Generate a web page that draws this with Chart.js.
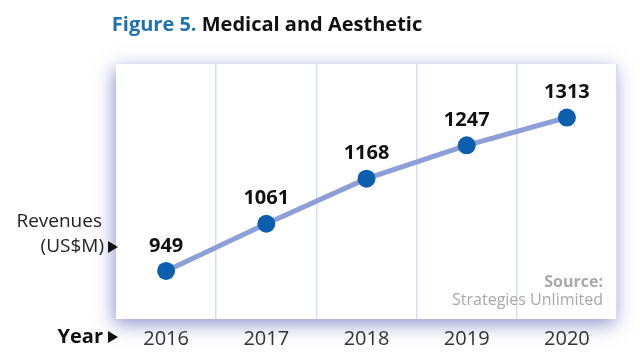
<!DOCTYPE html>
<html>
<head>
<meta charset="utf-8">
<script src="https://cdn.jsdelivr.net/npm/chart.js@4/dist/chart.umd.min.js"></script>
<style>
html,body{margin:0;padding:0;background:#fff;}
#wrap{width:640px;height:362px;position:relative;}
</style>
</head>
<body>
<div id="wrap"><canvas id="c" width="640" height="362"></canvas></div>
<script>
const years = ['2016', '2017', '2018', '2019', '2020'];
const revenues = [949, 1061, 1168, 1247, 1313];
const titleParts = ['Figure 5.', ' Medical and Aesthetic'];
const yLabel = ['Revenues', '(US$M)'];
const xLabel = 'Year';
const sourceLines = ['Source:', 'Strategies Unlimited'];

const FONT = '"Open Sans", "DejaVu Sans", sans-serif';

const boxPlugin = {
  id: 'box',
  beforeDraw(chart) {
    const {ctx, chartArea: a} = chart;
    ctx.save();
    ctx.shadowColor = 'rgba(110,110,190,0.75)';
    ctx.shadowBlur = 18;
    ctx.shadowOffsetX = -2;
    ctx.shadowOffsetY = 5;
    ctx.fillStyle = '#fff';
    ctx.fillRect(a.left, a.top, a.right - a.left, a.bottom - a.top);
    ctx.restore();
  },
  afterDatasetsDraw(chart) {
    const {ctx} = chart;
    const meta = chart.getDatasetMeta(0);
    ctx.save();
    ctx.font = 'bold 20px ' + FONT;
    ctx.fillStyle = '#111';
    ctx.textAlign = 'center';
    ctx.textBaseline = 'middle';
    meta.data.forEach((pt, i) => {
      ctx.fillText(String(revenues[i]), pt.x, pt.y - 25);
    });
    ctx.restore();
  },
  afterDraw(chart) {
    const {ctx, chartArea: a} = chart;
    ctx.save();
    // title
    ctx.font = 'bold 20px ' + FONT;
    ctx.textBaseline = 'alphabetic';
    const w1 = ctx.measureText(titleParts[0]).width;
    const w2 = ctx.measureText(titleParts[1]).width;
    let x = 267 - (w1 + w2) / 2;
    ctx.textAlign = 'left';
    ctx.fillStyle = '#1f72ad';
    ctx.fillText(titleParts[0], x, 31);
    ctx.fillStyle = '#111';
    ctx.fillText(titleParts[1], x + w1, 31);

    function tri(xr, yc) {
      ctx.beginPath();
      ctx.moveTo(xr - 10, yc - 6);
      ctx.lineTo(xr, yc);
      ctx.lineTo(xr - 10, yc + 6);
      ctx.closePath();
      ctx.fill();
    }
    // y label
    ctx.fillStyle = '#222';
    ctx.font = '19px ' + FONT;
    ctx.textBaseline = 'middle';
    ctx.textAlign = 'right';
    ctx.fillText(yLabel[0], 102, 222);
    ctx.fillText(yLabel[1], 104, 247);
    ctx.fillStyle = '#111';
    tri(118, 247);
    // x label
    ctx.font = 'bold 20px ' + FONT;
    ctx.fillText(xLabel, 103, 337);
    tri(118, 337);
    // source
    ctx.fillStyle = '#a8a8a8';
    ctx.font = 'bold 16px ' + FONT;
    ctx.fillText(sourceLines[0], 603, 282);
    ctx.font = '16px ' + FONT;
    ctx.fillText(sourceLines[1], 603, 300);
    ctx.restore();
  }
};

new Chart(document.getElementById('c'), {
  type: 'line',
  data: {
    labels: years,
    datasets: [{
      data: revenues,
      borderColor: '#8e9ed8',
      borderWidth: 5,
      pointBackgroundColor: '#0b5fae',
      pointBorderColor: '#0b5fae',
      pointRadius: 9,
      pointBorderWidth: 0,
      tension: 0
    }]
  },
  options: {
    responsive: false,
    animation: false,
    events: [],
    layout: {padding: {left: 116, right: 23, top: 64, bottom: 3}},
    plugins: {legend: {display: false}, tooltip: {enabled: false}, title: {display: false}},
    scales: {
      x: {
        offset: true,
        grid: {
          offset: true,
          drawTicks: false,
          lineWidth: 1.5,
          color: (c) => (c.index === 0 || c.index === years.length) ? 'rgba(0,0,0,0)' : '#d6deef'
        },
        border: {display: false},
        ticks: {color: '#333', font: {family: FONT, size: 20}, padding: 8}
      },
      y: {
        display: false,
        min: 835,
        max: 1440
      }
    }
  },
  plugins: [boxPlugin]
});
</script>
</body>
</html>
